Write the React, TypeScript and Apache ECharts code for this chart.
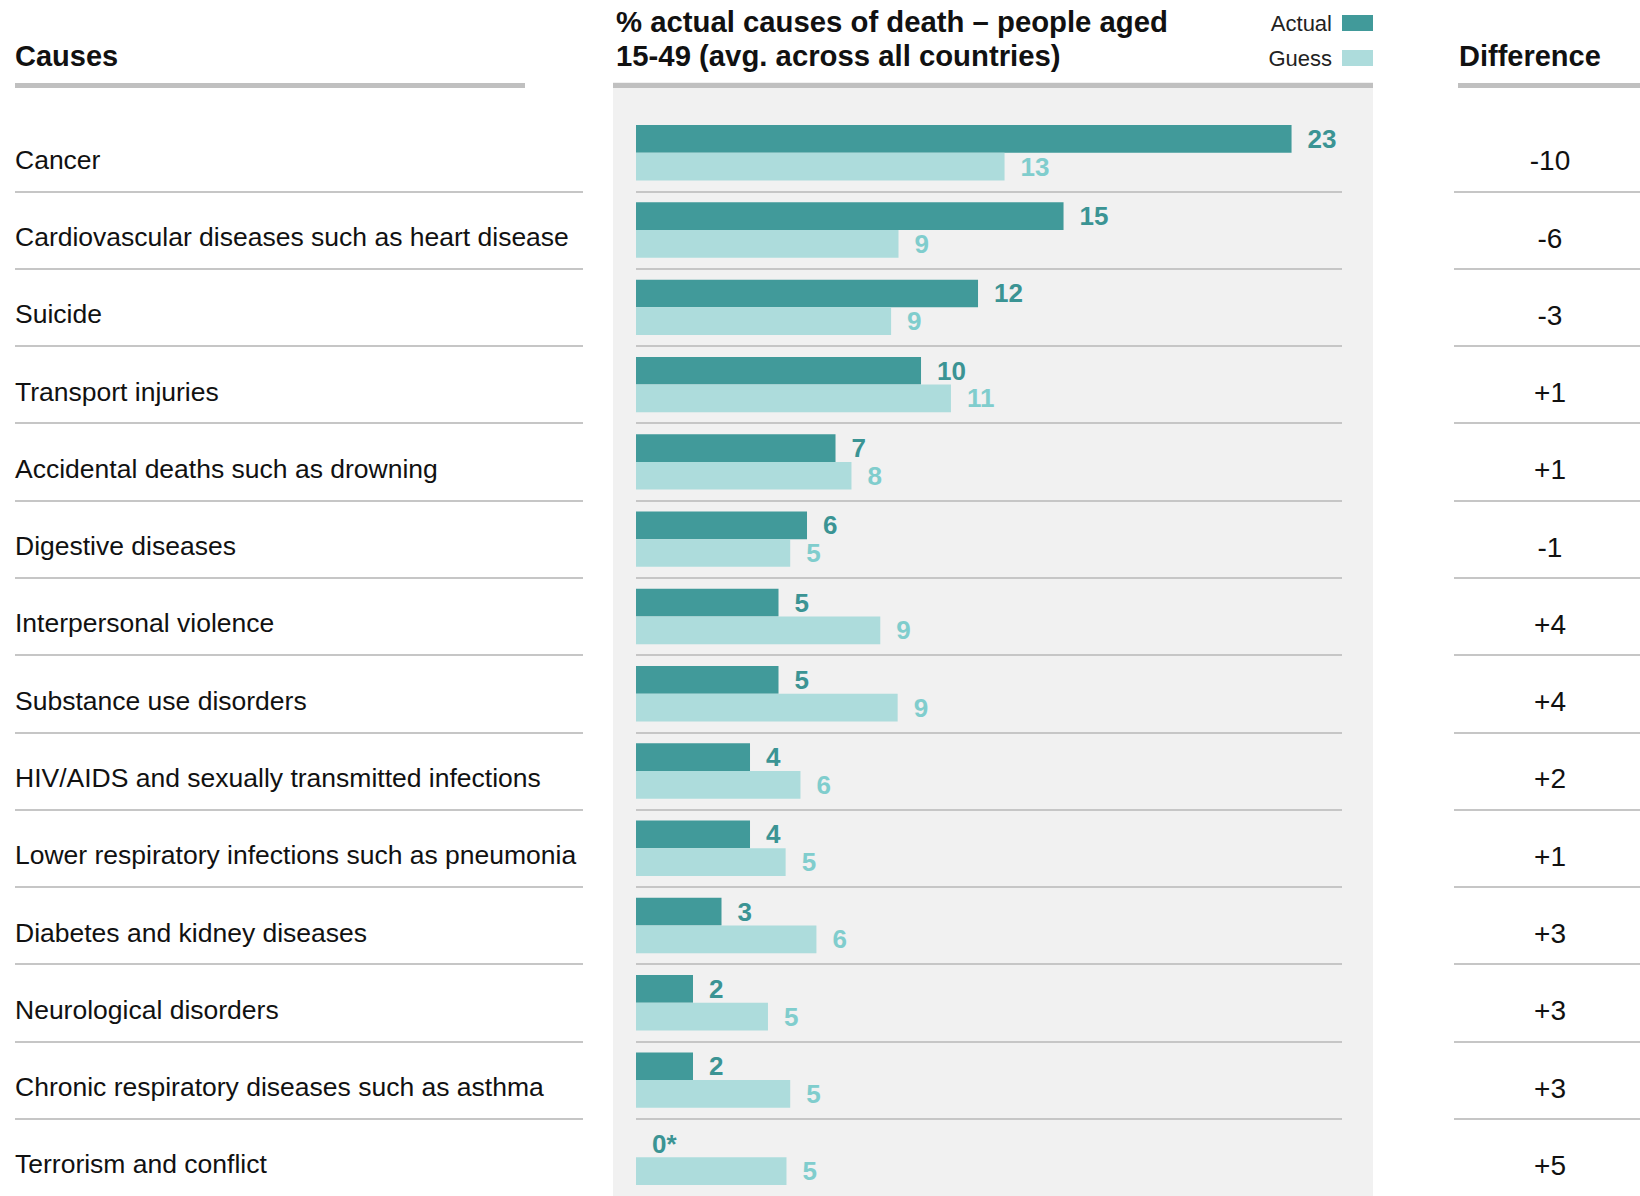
import React, { useEffect, useRef } from "react";
import * as echarts from "echarts";

const categories = [
  "Cancer",
  "Cardiovascular diseases such as heart disease",
  "Suicide",
  "Transport injuries",
  "Accidental deaths such as drowning",
  "Digestive diseases",
  "Interpersonal violence",
  "Substance use disorders",
  "HIV/AIDS and sexually transmitted infections",
  "Lower respiratory infections such as pneumonia",
  "Diabetes and kidney diseases",
  "Neurological disorders",
  "Chronic respiratory diseases such as asthma",
  "Terrorism and conflict",
];
const actualValues = [23, 15, 12, 10, 7, 6, 5, 5, 4, 4, 3, 2, 2, 0];
const guessValues = [12.93, 9.21, 8.95, 11.05, 7.56, 5.41, 8.57, 9.18, 5.77, 5.25, 6.33, 4.63, 5.41, 5.28];
const differenceLabels = ["-10", "-6", "-3", "+1", "+1", "-1", "+4", "+4", "+2", "+1", "+3", "+3", "+3", "+5"];
const seriesNames = ["Actual", "Guess"];
const titleLines = ["% actual causes of death \u2013 people aged", "15-49 (avg. across all countries)"];

const FONT = "'Liberation Sans', Arial, Helvetica, sans-serif";
const ACTUAL_COLOR = "#419a9a";
const GUESS_COLOR = "#addcdc";
const ACTUAL_LABEL = "#3b9494";
const GUESS_LABEL = "#80cdcd";
const LINE_COLOR = "#c6c6c6";
const HEADER_LINE = "#c0c0c0";

const ROW_TOP = 114.15;
const ROW_H = 77.55;
const GRID_H = ROW_H * categories.length;

export default function App() {
  const ref = useRef<HTMLDivElement>(null);
  useEffect(() => {
    if (!ref.current) return;
    const chart = echarts.init(ref.current, undefined, { renderer: "svg" });
    const splitLine = {
      show: true,
      showMinLine: false,
      showMaxLine: false,
      lineStyle: { color: LINE_COLOR, width: 2 },
    };
    const catAxisBase = {
      type: "category" as const,
      data: categories,
      inverse: true,
      axisLine: { show: false },
      axisTick: { show: false },
      splitLine,
    };
    const option: any = {
      animation: false,
      backgroundColor: "#ffffff",
      textStyle: { fontFamily: FONT },
      legend: {
        data: seriesNames,
        orient: "vertical",
        right: 262,
        top: 7,
        align: "right",
        itemWidth: 31,
        itemHeight: 16,
        itemGap: 13,
        icon: "rect",
        textStyle: { fontFamily: FONT, fontSize: 22, color: "#222", padding: [0, 5, 0, 0] },
      },
      graphic: [
        { type: "rect", z: -10, shape: { x: 613, y: 82, width: 760, height: 1200 }, style: { fill: "#f1f1f1" } },
        { type: "rect", shape: { x: 15, y: 83, width: 510, height: 5 }, style: { fill: HEADER_LINE } },
        { type: "rect", shape: { x: 613, y: 83, width: 760, height: 5 }, style: { fill: HEADER_LINE } },
        { type: "rect", shape: { x: 1458, y: 83, width: 182, height: 5 }, style: { fill: HEADER_LINE } },
        {
          type: "text",
          x: 15,
          y: 56,
          style: { text: "Causes", font: `bold 29px ${FONT}`, fill: "#111", textVerticalAlign: "middle" },
        },
        {
          type: "text",
          x: 1459,
          y: 56,
          style: { text: "Difference", font: `bold 29px ${FONT}`, fill: "#111", textVerticalAlign: "middle" },
        },
        {
          type: "text",
          x: 616,
          y: 38.5,
          style: {
            text: titleLines.join("\n"),
            font: `bold 29.3px ${FONT}`,
            lineHeight: 34.5,
            fill: "#111",
            textVerticalAlign: "middle",
          },
        },
      ],
      grid: [
        { left: 15, top: ROW_TOP, width: 568, height: GRID_H },
        { left: 636, top: ROW_TOP, width: 706, height: GRID_H },
        { left: 1454, top: ROW_TOP, width: 186, height: GRID_H },
      ],
      xAxis: [
        { type: "value", gridIndex: 0, min: 0, max: 1, show: false },
        { type: "value", gridIndex: 1, min: 0, max: 24.77, show: false },
        { type: "value", gridIndex: 2, min: 0, max: 1, show: false },
      ],
      yAxis: [
        {
          ...catAxisBase,
          gridIndex: 0,
          axisLabel: {
            show: true,
            inside: true,
            margin: 0,
            align: "left",
            verticalAlign: "top",
            lineHeight: 14,
            fontFamily: FONT,
            fontSize: 26.5,
            color: "#111",
          },
        },
        {
          ...catAxisBase,
          gridIndex: 1,
          axisLabel: { show: false },
        },
        {
          ...catAxisBase,
          gridIndex: 2,
          axisLabel: {
            show: true,
            inside: true,
            margin: 96,
            align: "center",
            verticalAlign: "top",
            lineHeight: 16,
            fontFamily: FONT,
            fontSize: 28,
            color: "#111",
            formatter: (_v: string, i: number) => differenceLabels[i],
          },
        },
      ],
      series: [
        {
          name: seriesNames[0],
          type: "bar",
          xAxisIndex: 1,
          yAxisIndex: 1,
          data: actualValues,
          barWidth: 27.7,
          barGap: "0%",
          itemStyle: { color: ACTUAL_COLOR },
          label: {
            show: true,
            position: "right",
            distance: 16,
            fontFamily: FONT,
            fontSize: 26,
            fontWeight: "bold",
            color: ACTUAL_LABEL,
            formatter: (p: any) => (p.value === 0 ? "0*" : String(p.value)),
          },
        },
        {
          name: seriesNames[1],
          type: "bar",
          xAxisIndex: 1,
          yAxisIndex: 1,
          data: guessValues,
          barWidth: 27.7,
          barGap: "0%",
          itemStyle: { color: GUESS_COLOR },
          label: {
            show: true,
            position: "right",
            distance: 16,
            fontFamily: FONT,
            fontSize: 26,
            fontWeight: "bold",
            color: GUESS_LABEL,
            formatter: (p: any) => String(Math.round(p.value)),
          },
        },
      ],
    };
    chart.setOption(option);
    return () => chart.dispose();
  }, []);
  return (
    <div
      ref={ref}
      style={{ position: "absolute", left: 0, top: 0, width: 1640, height: 1196, overflow: "hidden" }}
    />
  );
}
